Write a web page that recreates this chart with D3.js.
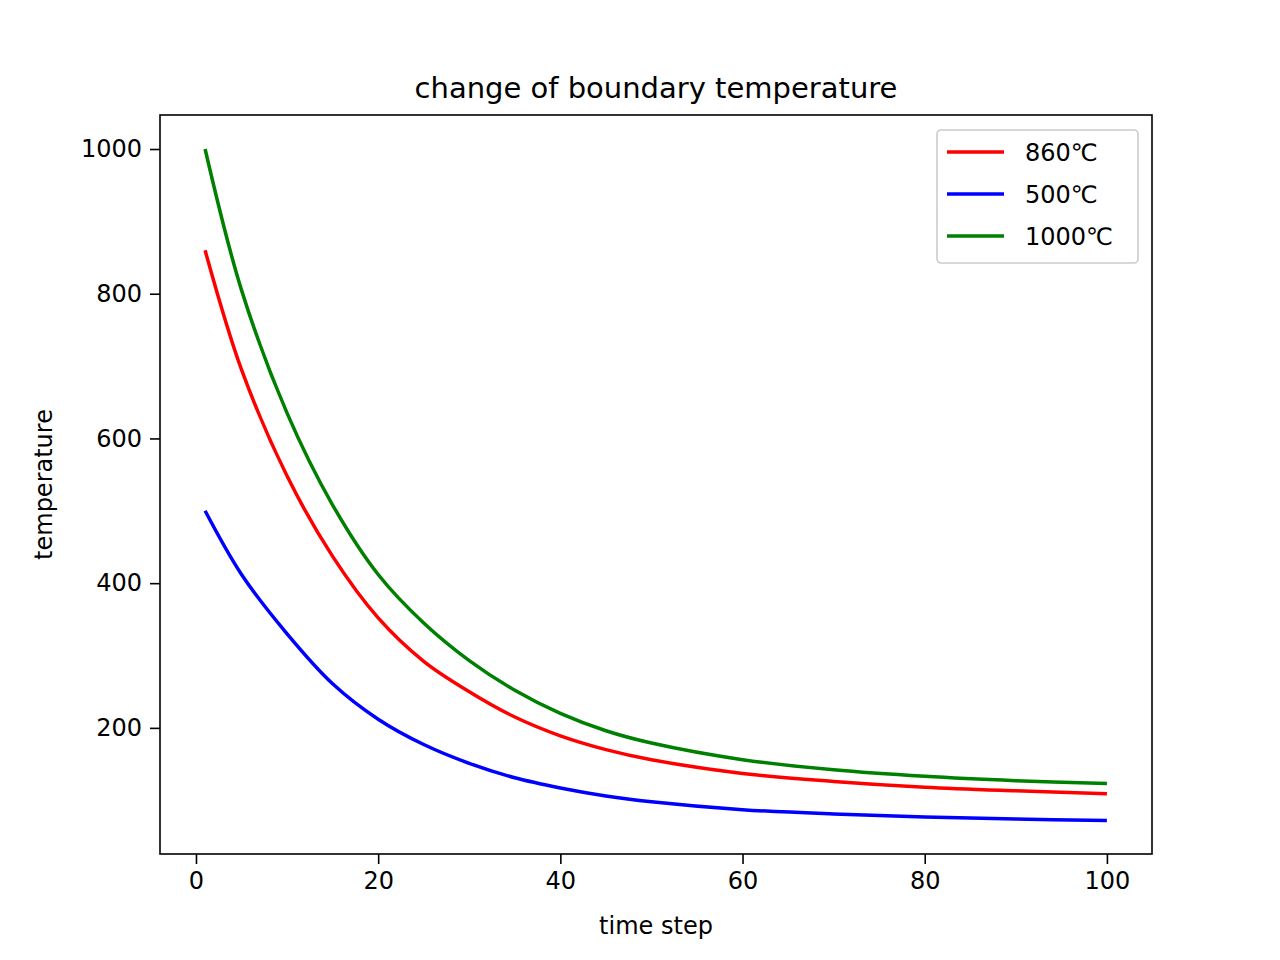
<!DOCTYPE html>
<html>
<head>
<meta charset="utf-8">
<script src="https://d3js.org/d3.v7.min.js"></script>
<style>
body { margin: 0; background: #fff; }
text { font-family: "DejaVu Sans", sans-serif; }
</style>
</head>
<body>
<div id="chart"></div>
<script>
const steps = [1, 5, 10, 15, 20, 25, 30, 35, 40, 45, 50, 60, 70, 80, 90, 100];
const t860 = [860, 695, 548, 437, 352, 292, 250, 215, 189, 170, 156, 137, 126, 118, 113, 109];
const t500 = [500, 412, 330, 261, 212, 177, 151, 131, 117, 106, 98, 87, 81, 77, 74, 72];
const t1000 = [1000, 805, 635, 508, 412, 345, 293, 252, 220, 196, 179, 156, 142, 133, 127, 123];
const seriesNames = ["860℃", "500℃", "1000℃"];
const seriesColors = ["red", "blue", "green"];
const xTicks = [0, 20, 40, 60, 80, 100];
const yTicks = [200, 400, 600, 800, 1000];

const W = 1280, H = 960;
const m = { left: 160, right: 1152, top: 115, bottom: 854 };

const svg = d3.select("#chart").append("svg").attr("width", W).attr("height", H);

const x = d3.scaleLinear().domain([-3.95, 104.95]).range([m.left, m.right]);
const y = d3.scaleLinear().domain([25.7, 1047]).range([m.bottom, m.top]);

const all = [t860, t500, t1000];
const line = d3.line().x((d, i) => x(steps[i])).y(d => y(d)).curve(d3.curveCatmullRom.alpha(0.5));

all.forEach((s, k) => {
    svg.append("path").datum(s)
        .attr("fill", "none").attr("stroke", seriesColors[k])
        .attr("stroke-width", 3.5).attr("d", line);
});

const xa = svg.append("g").attr("transform", `translate(0,${m.bottom})`)
    .call(d3.axisBottom(x).tickValues(xTicks).tickFormat(d3.format("d")).tickSize(10).tickPadding(8).tickSizeOuter(0));
const ya = svg.append("g").attr("transform", `translate(${m.left},0)`)
    .call(d3.axisLeft(y).tickValues(yTicks).tickFormat(d3.format("d")).tickSize(10).tickPadding(8).tickSizeOuter(0));
[xa, ya].forEach(a => {
    a.select(".domain").remove();
    a.selectAll("line").attr("stroke", "#000").attr("stroke-width", 1.6);
    a.selectAll("text").style("font-size", "24px").attr("fill", "#000");
});

svg.append("rect").attr("x", m.left).attr("y", m.top)
    .attr("width", m.right - m.left).attr("height", m.bottom - m.top)
    .attr("fill", "none").attr("stroke", "#000").attr("stroke-width", 1.6);

svg.append("text").attr("x", (m.left + m.right) / 2).attr("y", 98)
    .attr("text-anchor", "middle").style("font-size", "29px")
    .text("change of boundary temperature");
svg.append("text").attr("x", (m.left + m.right) / 2).attr("y", 934)
    .attr("text-anchor", "middle").style("font-size", "24px").text("time step");
svg.append("text").attr("transform", `translate(52,${(m.top + m.bottom) / 2}) rotate(-90)`)
    .attr("text-anchor", "middle").style("font-size", "24px").text("temperature");

const lg = svg.append("g").attr("transform", "translate(937,130)");
lg.append("rect").attr("width", 201).attr("height", 133).attr("rx", 4)
    .attr("fill", "#fff").attr("fill-opacity", 0.8).attr("stroke", "#ccc").attr("stroke-width", 1.6);
seriesNames.forEach((n, i) => {
    const cy = 22 + i * 42;
    lg.append("line").attr("x1", 10).attr("x2", 67).attr("y1", cy).attr("y2", cy)
        .attr("stroke", seriesColors[i]).attr("stroke-width", 3.5);
    lg.append("text").attr("x", 88).attr("y", cy + 9).style("font-size", "24px").text(n);
});
</script>
</body>
</html>
